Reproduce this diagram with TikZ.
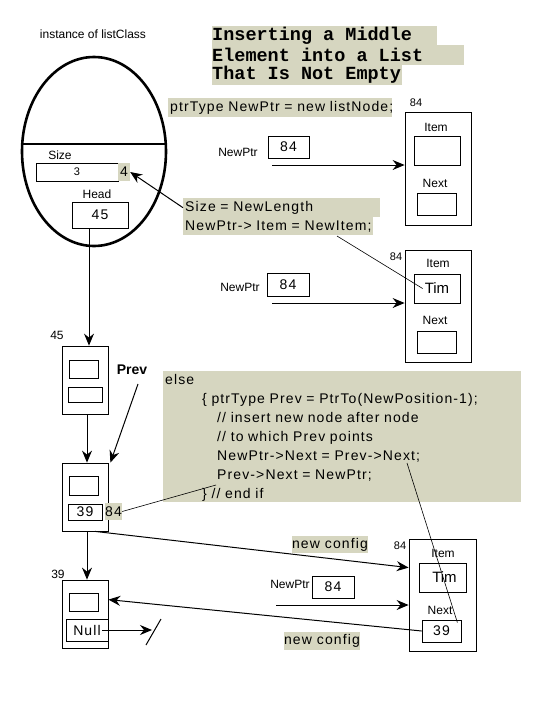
\documentclass[tikz,border=0pt]{standalone}
\usepackage{fontspec}
\setmainfont{Liberation Sans}
\newfontfamily\codefont[LetterSpace=8]{Liberation Sans}
\newfontfamily\titlefont{Liberation Mono}
\usetikzlibrary{arrows.meta}
\usetikzlibrary{calc}
\usetikzlibrary{positioning}
\usetikzlibrary{shapes.geometric}
\definecolor{hlcol}{RGB}{214,214,192}
\newcommand{\tsp}{\hspace*{0.6em}}

\tikzset{
	box/.style={draw, line width=0.8pt, inner sep=0pt},
	hl/.style={fill=hlcol, inner xsep=2pt, inner ysep=0pt, anchor=north west, align=left},
	hlnum/.style={fill=hlcol, inner sep=0pt},
	lbl/.style={font=\fontsize{12}{14}\selectfont},
	smalllbl/.style={font=\fontsize{11}{13}\selectfont},
	num/.style={font=\codefont\fontsize{14}{16}\selectfont},
	code/.style={font=\codefont\fontsize{14}{19}\selectfont},
	ttl/.style={font=\titlefont\bfseries\fontsize{18.5}{19}\selectfont, inner xsep=0pt},
	arr/.style={line width=1pt, -{Stealth[length=12pt,width=10pt,inset=4pt]}},
	thinline/.style={line width=0.6pt}
}

\begin{document}
\begin{tikzpicture}[x=1pt,y=-1pt]
		\useasboundingbox[fill=white] (0,0) rectangle (537,718);

		% title
		\node[hl, ttl, minimum height=19pt, text width=225pt] (ttl1) at (212,26) {Inserting\tsp a\tsp Middle};
		\node[hl, ttl, minimum height=20pt, text width=252pt] (ttl2) at (212,45) {Element\tsp into\tsp a\tsp List};
		\node[hl, ttl, minimum height=20pt, text width=190pt] (ttl3) at (212,65) {That\tsp Is\tsp Not\tsp Empty};

		% list object
		\node[font=\fontsize{12}{14}\selectfont] (inst) at (93,34) {instance of listClass};
		\node[draw, ellipse, line width=2.6pt, minimum width=144pt, minimum height=189pt, inner sep=0pt] (cls) at (94,151.5) {};
		\draw[line width=2.6pt] (22.5,144) -- (165.5,144);
		\node[lbl] (sizelbl) at (60,155) {Size};
		\node[box, minimum width=82pt, minimum height=18pt, smalllbl] (sizebox) at (77,172) {3};
		\node[hlnum, minimum width=12pt, minimum height=18pt, num] (four) at (124,172) {4};
		\node[lbl] (headlbl) at (97,194) {Head};
		\node[box, minimum width=56pt, minimum height=26pt, num] (headbox) at (100,215) {45};

		% new node
		\node[hl, minimum height=19pt, text width=220pt, code] (newln) at (168,98) {\mbox{ptrType NewPtr = new listNode;}};
		\node[smalllbl] (adrA) at (416,103) {84};
		\node[box, minimum width=66pt, minimum height=113pt] (nodeA) at (438,168.5) {};
		\node[lbl] (itemlblA) at (436,127) {Item};
		\node[box, minimum width=46pt, minimum height=29pt] (itemA) at (437,150.5) {};
		\node[lbl] (nextlblA) at (435,183) {Next};
		\node[box, minimum width=39pt, minimum height=22pt] (nextA) at (436.5,204) {};
		\node[lbl] (ptrlblA) at (238,152) {NewPtr};
		\node[box, minimum width=41pt, minimum height=22pt, num] (ptrA) at (288.5,147) {84};
		\coordinate (tailA) at (272,165);
		\draw[arr] (tailA) -- (tailA -| nodeA.west);

		% set size and item
		\node[hl, minimum height=19pt, text width=193pt, code] (sz1) at (183,198) {\mbox{Size = NewLength}};
		\node[hl, minimum height=18pt, text width=186pt, code] (sz2) at (183,217) {\mbox{NewPtr-> Item = NewItem;}};
		\draw[arr] (sz1.west) -- (four.east);
		\node[smalllbl] (adrB) at (396,257) {84};
		\node[box, minimum width=66pt, minimum height=112pt] (nodeB) at (438,306) {};
		\node[lbl] (itemlblB) at (438,263) {Item};
		\node[box, minimum width=46pt, minimum height=29pt, font=\fontsize{15}{17}\selectfont] (itemB) at (437,288.5) {Tim};
		\node[lbl] (nextlblB) at (435,320) {Next};
		\node[box, minimum width=39pt, minimum height=22pt] (nextB) at (436.5,342) {};
		\node[lbl] (ptrlblB) at (240,287) {NewPtr};
		\node[box, minimum width=42pt, minimum height=23pt, num] (ptrB) at (288,284.5) {84};
		\coordinate (tailB) at (272,303);
		\draw[arr] (tailB) -- (tailB -| nodeB.west);
		\coordinate (itemln) at (337,236);
		\draw[thinline] (itemln) -- ([xshift=9pt]itemB.west);

		% linked list
		\node[lbl] (adr45) at (57,335) {45};
		\node[box, minimum width=46pt, minimum height=68pt] (n45) at (85,380) {};
		\node[box, minimum width=29pt, minimum height=18pt] (n45item) at (83.5,369) {};
		\node[box, minimum width=34pt, minimum height=15pt] (n45next) at (85,394.5) {};
		\node[font=\bfseries\fontsize{14}{16}\selectfont] (prev) at (132,370) {Prev};

		\node[box, minimum width=46pt, minimum height=68pt] (nMid) at (85,497) {};
		\node[box, minimum width=29pt, minimum height=19pt] (nMiditem) at (83.5,485.5) {};
		\node[box, minimum width=34pt, minimum height=16pt, num] (nMidnext) at (85,512) {39};
		\node[hlnum, minimum width=17pt, minimum height=17pt, num] (mid84) at (113.5,511.5) {84};

		\node[lbl] (adr39) at (58,574) {39};
		\node[box, minimum width=46pt, minimum height=68pt] (n39) at (85,614) {};
		\node[box, minimum width=29pt, minimum height=18pt] (n39item) at (83.5,602) {};
		\node[box, minimum width=42pt, minimum height=22pt, num] (nullbox) at (87,630) {Null};
		\coordinate (nullend) at (152,630);

		\draw[arr] ([xshift=4pt]n45.north |- headbox.south) -- ([xshift=4pt]n45.north);
		\draw[arr] ([xshift=2pt]n45.south) -- ([xshift=2pt]nMid.north);
		\coordinate (prevtail) at (138,384);
		\draw[arr] (prevtail) -- ([xshift=2pt]nMid.north east);
		\draw[arr] ([xshift=2pt]nMid.south) -- ([xshift=2pt]n39.north);
		\draw[arr] ([xshift=-6pt]nullbox.east) -- (nullend);
		\draw[line width=1pt] ($(nullend)+(-6,15)$) -- ($(nullend)+(9,-11)$);

		% else branch
		\node[hl, minimum height=130pt, text width=354pt, code] (elseblk) at (163,371) {\rule{0pt}{13.5pt}else\\
			\hspace*{37pt}\{ ptrType Prev = PtrTo(NewPosition-1);\\
			\hspace*{52pt}// insert new node after node\\
			\hspace*{52pt}// to which Prev points\\
			\hspace*{52pt}NewPtr->Next = Prev->Next;\\
			\hspace*{52pt}Prev->Next = NewPtr;\\
			\hspace*{37pt}\} // end if};
		\coordinate (elsept) at (216,485);
		\draw[thinline] (mid84.east) -- (elsept);

		% new configuration
		\node[smalllbl] (adrC) at (400,546) {84};
		\node[box, minimum width=67pt, minimum height=112pt] (nodeC) at (442.5,595) {};
		\node[lbl] (itemlblC) at (443,553) {Item};
		\node[box, minimum width=47pt, minimum height=29pt, font=\fontsize{15}{17}\selectfont] (itemC) at (442.5,577.5) {\hspace*{4pt}Tim};
		\node[lbl] (nextlblC) at (440,610) {Next};
		\node[box, minimum width=39pt, minimum height=22pt, num] (nextC) at (441.5,631) {39};
		\node[lbl] (ptrlblC) at (290,584) {NewPtr};
		\node[box, minimum width=42pt, minimum height=22pt, num] (ptrC) at (333,587) {84};
		\coordinate (tailC) at (276,605);
		\draw[arr] (tailC) -- (tailC -| nodeC.west);
		\node[hlnum, minimum width=76pt, minimum height=17pt, code] (cfg1) at (330,544.5) {new config};
		\node[hlnum, minimum width=76pt, minimum height=18pt, code] (cfg2) at (322,641) {new config};

		\draw[arr] ([xshift=10pt]nMid.south) -- ([yshift=-29pt]nodeC.north west);
		\draw[arr] (nextC.west) -- ([yshift=-20pt]n39.north east);
		\coordinate (nxtpt) at (407,463);
		\draw[thinline] (nxtpt) -- ([xshift=-4pt,yshift=-3pt]nextC.north east);
\end{tikzpicture}
\end{document}
